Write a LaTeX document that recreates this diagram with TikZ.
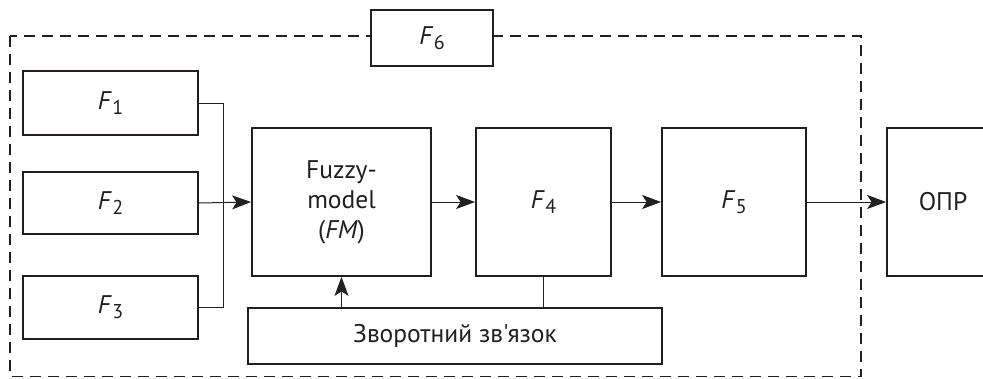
\documentclass[tikz,border=0pt]{standalone}
\usepackage{fontspec}
\setmainfont{PT Sans}[Ligatures=TeXOff, Numbers=Lining]
\usetikzlibrary{arrows.meta}
\definecolor{ink}{HTML}{231F20}
\tikzset{
  blk/.style={draw=ink, line width=1.8pt, fill=white, inner sep=0pt, align=center,
    font=\fontsize{25.5}{30}\selectfont, text=ink},
  conn/.style={draw=ink, line width=1pt},
  arr/.style={conn, -{Stealth[length=19pt, width=14pt, inset=4.5pt]}},
  frame/.style={draw=ink, line width=1.6pt, dash pattern=on 11pt off 7pt}
}
\newcommand{\Fi}[1]{\textit{F}\kern0.5pt\raisebox{-5pt}{\fontsize{20}{20}\selectfont #1}}
\begin{document}
\begin{tikzpicture}[x=1pt, y=-1pt]
\clip (0,0) rectangle (983,378);
\draw[frame] (10,36) rectangle (861,376.5);
\node[blk, minimum width=122, minimum height=56] (f6) at (432,38) {\Fi{6}};
\node[blk, minimum width=175, minimum height=64] (f1) at (110.5,103) {\Fi{1}};
\node[blk, minimum width=175, minimum height=62] (f2) at (110.5,203) {\Fi{2}};
\node[blk, minimum width=175, minimum height=63] (f3) at (110.5,307.5) {\Fi{3}};
\node[blk, minimum width=179, minimum height=148] (fm) at (341.5,202) {Fuzzy-\\model\\(\textit{FM})};
\node[blk, minimum width=135, minimum height=148] (f4) at (543.5,202) {\Fi{4}};
\node[blk, minimum width=144, minimum height=148] (f5) at (734,202) {\Fi{5}};
\node[blk, minimum width=112, minimum height=148] (opr) at (943,202) {ОПР};
\node[blk, minimum width=414, minimum height=56] (fb) at (455,336) {Зворотний зв'язок};
\draw[conn] (f1.east) -- ++(25,0) |- (f3.east);
\draw[arr] (f2.east) -- (fm.west);
\draw[arr] (fm.east) -- (f4.west);
\draw[arr] (f4.east) -- (f5.west);
\draw[arr] (f5.east) -- (opr.west);
\draw[conn] (f4.south) -- (f4.south |- fb.north);
\draw[arr] (fm.south |- fb.north) -- (fm.south);
\end{tikzpicture}
\end{document}
